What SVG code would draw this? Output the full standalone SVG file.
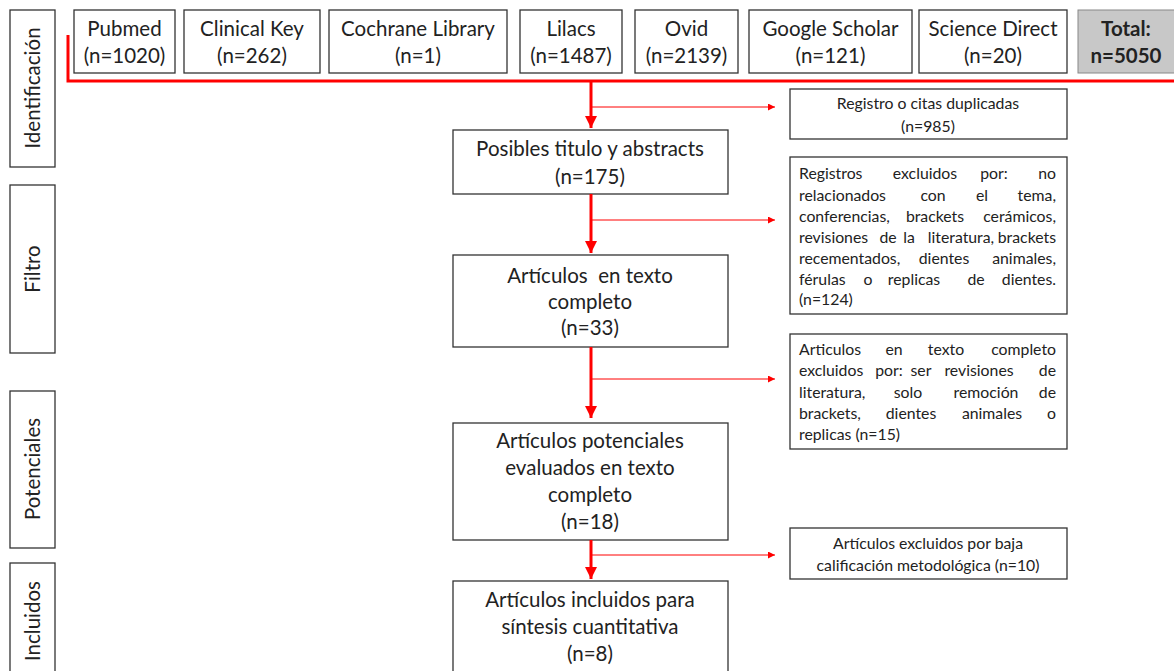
<svg xmlns="http://www.w3.org/2000/svg" width="1174" height="671" viewBox="0 0 1174 671">
<style>
.box{fill:#fff;stroke:#333;stroke-width:1.3}
.tot{fill:#c8c8c8;stroke:#888;stroke-width:1}
.t{font-family:Lato,"Open Sans",sans-serif;font-size:20.5px;fill:#222;text-anchor:middle}
.b{font-weight:bold}
.s{font-family:Lato,"Open Sans",sans-serif;font-size:15.8px;fill:#222}
.sm{text-anchor:middle}
.e{text-anchor:end}
.side{font-family:Lato,"Open Sans",sans-serif;font-size:20.5px;fill:#222;text-anchor:middle}
.thick{fill:none;stroke:#f00;stroke-width:3}
.thin{fill:none;stroke:#f00;stroke-width:1}
</style>
<defs>
<marker id="ah" viewBox="0 0 10 10" refX="10" refY="5" markerWidth="4" markerHeight="4" markerUnits="strokeWidth" orient="auto"><path d="M0,0 L10,5 L0,10 z" fill="#f00"/></marker>
<marker id="ahs" viewBox="0 0 10 10" refX="10" refY="5" markerWidth="8" markerHeight="7" markerUnits="strokeWidth" orient="auto"><path d="M0,0 L10,5 L0,10 z" fill="#f00"/></marker>
</defs>

<g id="side-identificacion"><rect class="box" x="10" y="10" width="45" height="157"/><text class="side" transform="translate(40,88) rotate(-90)">Identificación</text></g>
<g id="side-filtro"><rect class="box" x="10" y="185" width="45" height="168"/><text class="side" transform="translate(40,269) rotate(-90)">Filtro</text></g>
<g id="side-potenciales"><rect class="box" x="10" y="391" width="45" height="157"/><text class="side" transform="translate(40,469) rotate(-90)">Potenciales</text></g>
<g id="side-incluidos"><rect class="box" x="10" y="563" width="45" height="120"/><text class="side" transform="translate(40,621) rotate(-90)">Incluidos</text></g>

<g id="src-pubmed"><rect class="box" x="74" y="10" width="101" height="63"/><text class="t" x="124.5" y="36">Pubmed</text><text class="t" x="124.5" y="63">(n=1020)</text></g>
<g id="src-clinicalkey"><rect class="box" x="184" y="10" width="136" height="63"/><text class="t" x="252" y="36">Clinical Key</text><text class="t" x="252" y="63">(n=262)</text></g>
<g id="src-cochrane"><rect class="box" x="329" y="10" width="178" height="63"/><text class="t" x="418" y="36">Cochrane Library</text><text class="t" x="418" y="63">(n=1)</text></g>
<g id="src-lilacs"><rect class="box" x="520" y="10" width="102" height="63"/><text class="t" x="571" y="36">Lilacs</text><text class="t" x="571" y="63">(n=1487)</text></g>
<g id="src-ovid"><rect class="box" x="635" y="10" width="103" height="63"/><text class="t" x="686.5" y="36">Ovid</text><text class="t" x="686.5" y="63">(n=2139)</text></g>
<g id="src-google"><rect class="box" x="749" y="10" width="163" height="63"/><text class="t" x="830.5" y="36">Google Scholar</text><text class="t" x="830.5" y="63">(n=121)</text></g>
<g id="src-sciencedirect"><rect class="box" x="919" y="10" width="148" height="63"/><text class="t" x="993" y="36">Science Direct</text><text class="t" x="993" y="63">(n=20)</text></g>
<g id="total"><rect class="tot" x="1078" y="10" width="110" height="63"/><text class="t b" x="1126" y="36">Total:</text><text class="t b" x="1126" y="63">n=5050</text></g>

<g id="posibles"><rect class="box" x="453" y="130" width="275" height="64"/><text class="t" x="590" y="156">Posibles titulo y abstracts</text><text class="t" x="590" y="184">(n=175)</text></g>
<g id="completo"><rect class="box" x="453" y="255" width="275" height="92"/><text class="t" x="590" y="283" xml:space="preserve">Artículos  en texto</text><text class="t" x="590" y="309">completo</text><text class="t" x="590" y="335">(n=33)</text></g>
<g id="potenciales"><rect class="box" x="453" y="423" width="275" height="117"/><text class="t" x="590" y="448">Artículos potenciales</text><text class="t" x="590" y="475">evaluados en texto</text><text class="t" x="590" y="502">completo</text><text class="t" x="590" y="529">(n=18)</text></g>
<g id="incluidos"><rect class="box" x="453" y="581" width="275" height="100"/><text class="t" x="590" y="607">Artículos incluidos para</text><text class="t" x="590" y="634">síntesis cuantitativa</text><text class="t" x="590" y="661">(n=8)</text></g>

<g id="ex-duplicados"><rect class="box" x="790" y="89" width="277" height="50"/><text class="s sm" x="928" y="109">Registro o citas duplicadas</text><text class="s sm" x="928" y="132">(n=985)</text></g>
<g id="ex-registros"><rect class="box" x="790" y="157" width="277" height="157"/>
<text class="s" y="179"><tspan x="799">Registros</tspan><tspan x="925" text-anchor="middle">excluidos</tspan><tspan x="994" text-anchor="middle">por:</tspan><tspan x="1056" text-anchor="end">no</tspan></text>
<text class="s" y="201"><tspan x="799">relacionados</tspan><tspan x="933" text-anchor="middle">con</tspan><tspan x="982" text-anchor="middle">el</tspan><tspan x="1056" text-anchor="end">tema,</tspan></text>
<text class="s" y="222"><tspan x="799">conferencias,</tspan><tspan x="935" text-anchor="middle">brackets</tspan><tspan x="1056" text-anchor="end">cerámicos,</tspan></text>
<text class="s" y="243"><tspan x="799">revisiones</tspan><tspan x="888" text-anchor="middle">de</tspan><tspan x="909" text-anchor="middle">la</tspan><tspan x="961" text-anchor="middle">literatura,</tspan><tspan x="1056" text-anchor="end">brackets</tspan></text>
<text class="s" y="264"><tspan x="799">recementados,</tspan><tspan x="944" text-anchor="middle">dientes</tspan><tspan x="1056" text-anchor="end">animales,</tspan></text>
<text class="s" y="285"><tspan x="799">férulas</tspan><tspan x="868" text-anchor="middle">o</tspan><tspan x="914" text-anchor="middle">replicas</tspan><tspan x="976" text-anchor="middle">de</tspan><tspan x="1056" text-anchor="end">dientes.</tspan></text>
<text class="s" y="305"><tspan x="799">(n=124)</tspan></text>
</g>
<g id="ex-completo"><rect class="box" x="790" y="334" width="277" height="115"/>
<text class="s" y="355"><tspan x="799">Articulos</tspan><tspan x="894" text-anchor="middle">en</tspan><tspan x="946" text-anchor="middle">texto</tspan><tspan x="1056" text-anchor="end">completo</tspan></text>
<text class="s" y="376"><tspan x="799">excluidos</tspan><tspan x="889" text-anchor="middle">por:</tspan><tspan x="921" text-anchor="middle">ser</tspan><tspan x="979" text-anchor="middle">revisiones</tspan><tspan x="1056" text-anchor="end">de</tspan></text>
<text class="s" y="398"><tspan x="799">literatura,</tspan><tspan x="908" text-anchor="middle">solo</tspan><tspan x="986" text-anchor="middle">remoción</tspan><tspan x="1056" text-anchor="end">de</tspan></text>
<text class="s" y="419"><tspan x="799">brackets,</tspan><tspan x="911" text-anchor="middle">dientes</tspan><tspan x="992" text-anchor="middle">animales</tspan><tspan x="1056" text-anchor="end">o</tspan></text>
<text class="s" y="440"><tspan x="799">replicas (n=15)</tspan></text>
</g>
<g id="ex-baja"><rect class="box" x="790" y="528" width="277" height="51"/><text class="s sm" x="928" y="549">Artículos excluidos por baja</text><text class="s sm" x="928" y="571">calificación metodológica (n=10)</text></g>

<g id="connectors">
<path class="thick" d="M68,35 V81 H1174"/>
<path class="thick" d="M591,81 V128" marker-end="url(#ah)"/>
<path class="thin" d="M591,107 H775" marker-end="url(#ahs)"/>
<path class="thick" d="M591,194 V253" marker-end="url(#ah)"/>
<path class="thin" d="M591,220 H775" marker-end="url(#ahs)"/>
<path class="thick" d="M591,347 V418" marker-end="url(#ah)"/>
<path class="thin" d="M591,379 H775" marker-end="url(#ahs)"/>
<path class="thick" d="M591,540 V579" marker-end="url(#ah)"/>
<path class="thin" d="M591,555 H775" marker-end="url(#ahs)"/>
</g>
</svg>
